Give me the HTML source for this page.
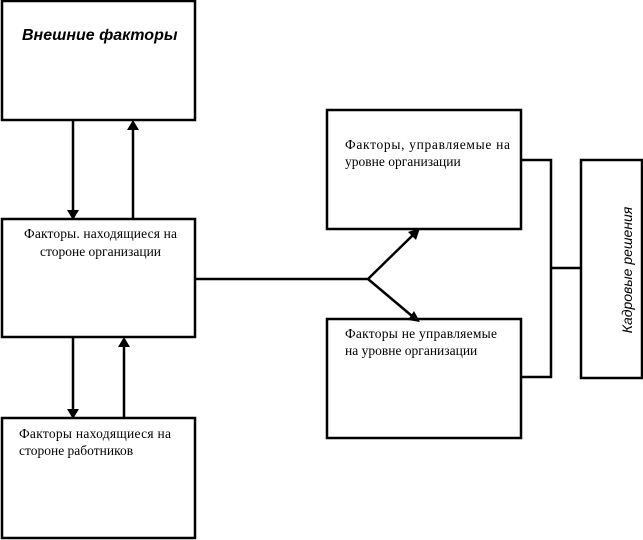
<!DOCTYPE html>
<html><head><meta charset="utf-8"><style>
html,body{margin:0;padding:0;background:#fff;width:643px;height:540px;overflow:hidden}
svg{display:block}
.s{font-family:"Liberation Serif","Noto Serif CJK SC",serif;font-size:13.5px;fill:#000}
.b{font-family:"Liberation Sans",sans-serif;font-style:italic;font-weight:bold;font-size:16px;fill:#000}
.r{font-family:"Liberation Sans",sans-serif;font-style:italic;font-size:14px;fill:#000}
</style></head><body>
<svg width="643" height="540" viewBox="0 0 643 540">
<g fill="none" stroke="#000" stroke-width="2.5">
<rect x="2" y="1" width="193" height="119"/>
<rect x="2" y="219" width="193" height="118"/>
<rect x="2" y="418" width="193" height="120"/>
<rect x="327" y="110" width="194" height="119"/>
<rect x="327" y="319" width="194" height="119"/>
<rect x="581" y="160" width="61" height="218"/>
<path d="M73 120V212M133 219V128M73 337V411M124 418V345"/>
<path d="M195 279H368L413 235M368 279L412 316"/>
<path d="M521 160H551V377H521M551 268H581"/>
</g>
<g fill="#000">
<path d="M67 210L79 210L73 220Z"/>
<path d="M127 130L139 130L133 120Z"/>
<path d="M67 409L79 409L73 419Z"/>
<path d="M118 347L130 347L124 337Z"/>
<path d="M420 228L408 232L416 240Z"/>
<path d="M420 322L408 320L414 311Z"/>
</g>
<text class="b" x="22" y="40">Внешние факторы</text>
<text class="s" x="24" y="238" textLength="153" lengthAdjust="spacing">Факторы. находящиеся на</text>
<text class="s" x="40" y="256">стороне организации</text>
<text class="s" x="19" y="438" textLength="152" lengthAdjust="spacing">Факторы находящиеся на</text>
<text class="s" x="19" y="455">стороне работников</text>
<text class="s" x="345" y="149" textLength="165" lengthAdjust="spacing">Факторы,  управляемые  на</text>
<text class="s" x="345" y="166">уровне организации</text>
<text class="s" x="345" y="338" textLength="152" lengthAdjust="spacing">Факторы не управляемые</text>
<text class="s" x="345" y="355">на уровне организации</text>
<text class="r" transform="translate(632,270) rotate(-90)" text-anchor="middle">Кадровые решения</text>
</svg>
</body></html>
